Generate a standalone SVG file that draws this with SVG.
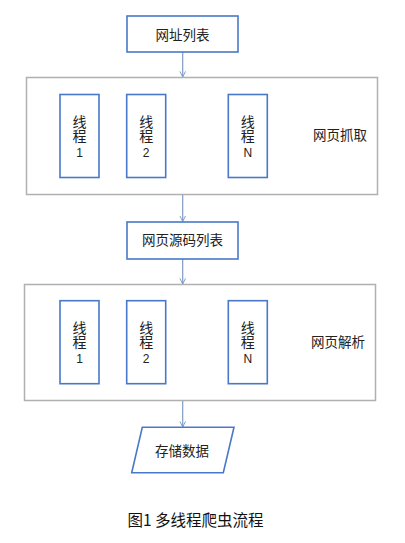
<svg xmlns="http://www.w3.org/2000/svg" width="405" height="543" viewBox="0 0 405 543">
<style>
text{font-family:"Noto Sans CJK SC","Liberation Sans",sans-serif;font-size:13.5px;fill:#222;text-anchor:middle}
.v{writing-mode:vertical-rl;text-orientation:upright;text-anchor:start;font-size:14px}
.num{font-family:"Liberation Sans","Noto Sans CJK SC",sans-serif;font-size:12px}
.box{fill:#fff;stroke:#4a78c8;stroke-width:1.6}
.outer{fill:#fff;stroke:#b0b0b0;stroke-width:1.5}
.conn{stroke:#7f9cc6;stroke-width:1.2;fill:none}
.cap{font-size:15.5px;fill:#111}
</style>
<defs>
<marker id="arr" viewBox="0 0 10 10" refX="9" refY="5" markerWidth="7" markerHeight="7" orient="auto" markerUnits="userSpaceOnUse">
<path d="M1,1 L9,5 L1,9" fill="none" stroke="#7f9cc6" stroke-width="1.4"/>
</marker>
</defs>
<rect width="405" height="543" fill="#fff"/>
<g id="fetch-group">
<rect class="outer" x="26.5" y="77.5" width="351" height="117"/>
<text x="340" y="139.8">网页抓取</text>
</g>
<g id="parse-group">
<rect class="outer" x="24.5" y="284.5" width="351" height="116"/>
<text x="338" y="346.8">网页解析</text>
</g>
<g id="connectors">
<line class="conn" x1="182.7" y1="52" x2="182.7" y2="77" marker-end="url(#arr)"/>
<line class="conn" x1="182.7" y1="195" x2="182.7" y2="221.5" marker-end="url(#arr)"/>
<line class="conn" x1="182.7" y1="259" x2="182.7" y2="284" marker-end="url(#arr)"/>
<line class="conn" x1="182.7" y1="401" x2="182.7" y2="427" marker-end="url(#arr)"/>
</g>
<g id="url-list">
<rect class="box" x="127" y="16" width="111" height="36"/>
<text x="182.5" y="39.8">网址列表</text>
</g>
<g id="fetch-t1">
<rect class="box" x="60" y="94.5" width="39" height="83"/>
<text class="v" x="79.5" y="114.3">线程</text><text class="num" x="79.5" y="157">1</text>
</g>
<g id="fetch-t2">
<rect class="box" x="126.7" y="94.5" width="39" height="83"/>
<text class="v" x="146.2" y="114.3">线程</text><text class="num" x="146.2" y="157">2</text>
</g>
<g id="fetch-tn">
<rect class="box" x="228.3" y="94.5" width="39" height="83"/>
<text class="v" x="247.8" y="114.3">线程</text><text class="num" x="247.8" y="157">N</text>
</g>
<g id="source-list">
<rect class="box" x="127" y="222" width="111" height="37"/>
<text x="182.5" y="245.3">网页源码列表</text>
</g>
<g id="parse-t1">
<rect class="box" x="60" y="300.7" width="39" height="83"/>
<text class="v" x="79.5" y="320.5">线程</text><text class="num" x="79.5" y="363.2">1</text>
</g>
<g id="parse-t2">
<rect class="box" x="126.7" y="300.7" width="39" height="83"/>
<text class="v" x="146.2" y="320.5">线程</text><text class="num" x="146.2" y="363.2">2</text>
</g>
<g id="parse-tn">
<rect class="box" x="228.3" y="300.7" width="39" height="83"/>
<text class="v" x="247.8" y="320.5">线程</text><text class="num" x="247.8" y="363.2">N</text>
</g>
<g id="store">
<polygon class="box" points="142.3,427.3 234,427.3 223.3,472.7 131.7,472.7"/>
<text x="182" y="455.8">存储数据</text>
</g>
<g id="caption">
<text class="cap" x="195.5" y="526">图1 多线程爬虫流程</text>
</g>
</svg>
